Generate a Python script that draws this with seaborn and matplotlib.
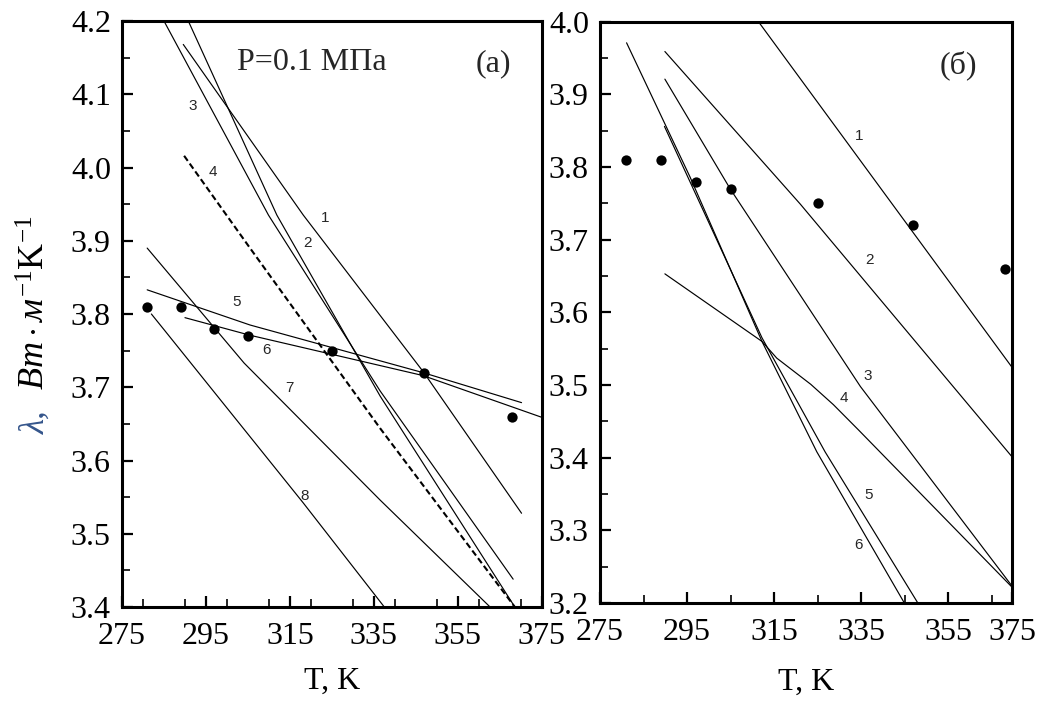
import matplotlib
matplotlib.use("Agg")
import matplotlib.pyplot as plt
import seaborn as sns
from matplotlib.ticker import FixedLocator, MultipleLocator, FormatStrFormatter

# ---------------- data ----------------
# experimental points (same in both panels)
T_obs = [281, 289, 297, 305, 325, 347, 368]
lam_obs = [3.81, 3.81, 3.78, 3.77, 3.75, 3.72, 3.66]

# panel (a) curves
a1_T = [289.6, 318.2, 346.8, 370.2]
a1_L = [4.168, 3.935, 3.721, 3.528]
a2_T = [290.8, 311.9, 336.5, 368.6]
a2_L = [4.200, 3.935, 3.688, 3.400]
a3_T = [285.0, 309.9, 336.5, 368.2]
a3_L = [4.200, 3.935, 3.695, 3.438]
a4_T = [289.8, 305.5, 336.5, 368.6]
a4_L = [4.016, 3.890, 3.644, 3.400]
a5_T = [281.0, 305.5, 346.7, 370.2]
a5_L = [3.833, 3.785, 3.720, 3.679]
a6_T = [290.0, 305.5, 346.7, 375.0]
a6_L = [3.795, 3.771, 3.716, 3.659]
a7_T = [281.0, 304.1, 336.5, 362.7]
a7_L = [3.890, 3.733, 3.546, 3.400]
a8_T = [282.0, 285.1, 318.2, 337.5]
a8_L = [3.800, 3.778, 3.542, 3.400]

# panel (б) curves
b1_T = [311.4, 369.8]
b1_L = [4.000, 3.523]
b2_T = [289.9, 321.0, 369.8]
b2_L = [3.959, 3.749, 3.400]
b3_T = [289.9, 304.9, 334.8, 369.8]
b3_L = [3.921, 3.770, 3.498, 3.222]
b4_T = [289.9, 312.2, 315.6, 323.4, 328.6, 334.4, 369.6]
b4_L = [3.653, 3.560, 3.537, 3.501, 3.473, 3.438, 3.222]
b5_T = [289.8, 312.2, 326.7, 348.0]
b5_L = [3.856, 3.565, 3.408, 3.200]
b6_T = [281.1, 295.7, 312.2, 324.8, 344.9]
b6_L = [3.971, 3.786, 3.560, 3.408, 3.200]

# curve number labels (text, T, lambda)
a_labels = [("1", 323.4, 3.931), ("2", 319.2, 3.897), ("3", 291.8, 4.084),
            ("4", 296.6, 3.994), ("5", 302.3, 3.817), ("6", 309.5, 3.751),
            ("7", 315.0, 3.699), ("8", 318.4, 3.552)]
b_labels = [("1", 334.4, 3.843), ("2", 336.8, 3.672), ("3", 336.4, 3.512),
            ("4", 330.9, 3.482), ("5", 336.7, 3.348), ("6", 334.4, 3.280)]

xticks_a = [275, 295, 315, 335, 355, 375]
xticks_b_pos = [275, 295, 315, 335, 355, 369.7]
xtick_labels = ["275", "295", "315", "335", "355", "375"]

# ---------------- style ----------------
sns.set_theme(style="white")
plt.rcParams["font.family"] = ["Liberation Serif", "DejaVu Serif"]
plt.rcParams["mathtext.fontset"] = "custom"
plt.rcParams["mathtext.rm"] = "Liberation Serif"
plt.rcParams["mathtext.it"] = "Liberation Serif:italic"
plt.rcParams["mathtext.bf"] = "Liberation Serif:bold"

FS = 23

fig = plt.figure(figsize=(10.51, 7.01), dpi=100)
axA = fig.add_axes([0.11608, 0.13409, 0.39933, 0.83595])
axB = fig.add_axes([0.5709, 0.1398, 0.3923, 0.8292])

LW = 0.85


def curve(ax, T, L, **kw):
    sns.lineplot(x=T, y=L, ax=ax, color="black", lw=kw.pop("lw", LW),
                 sort=False, estimator=None, legend=False, **kw)


for T, L in [(a1_T, a1_L), (a2_T, a2_L), (a3_T, a3_L), (a5_T, a5_L),
             (a6_T, a6_L), (a7_T, a7_L), (a8_T, a8_L)]:
    curve(axA, T, L)
curve(axA, a4_T, a4_L, lw=1.5, linestyle=(0, (3, 1.6)))

for T, L in [(b1_T, b1_L), (b2_T, b2_L), (b3_T, b3_L), (b4_T, b4_L),
             (b5_T, b5_L), (b6_T, b6_L)]:
    curve(axB, T, L)

for ax in (axA, axB):
    sns.scatterplot(x=T_obs, y=lam_obs, ax=ax, color="black", s=55,
                    edgecolor="black", linewidth=0, zorder=5, legend=False)

for txt, t, l in a_labels:
    axA.text(t, l, txt, fontsize=11, family="Liberation Sans",
             ha="center", va="center")
for txt, t, l in b_labels:
    axB.text(t, l, txt, fontsize=11, family="Liberation Sans",
             ha="center", va="center")

axA.text(320.2, 4.144, "P=0.1 МПа", fontsize=FS, ha="center", va="center")
axA.text(363.6, 4.142, "(a)", fontsize=FS, ha="center", va="center")
axB.text(357.3, 3.94, "(б)", fontsize=FS, ha="center", va="center")

# axes limits / ticks
axA.set_xlim(275, 375)
axA.set_ylim(3.4, 4.2)
axA.xaxis.set_major_locator(FixedLocator(xticks_a))
axA.set_xticklabels(xtick_labels)
axA.xaxis.set_minor_locator(MultipleLocator(10))
axA.yaxis.set_major_locator(MultipleLocator(0.1))
axA.yaxis.set_minor_locator(MultipleLocator(0.05))
axA.yaxis.set_major_formatter(FormatStrFormatter("%.1f"))

axB.set_xlim(275, 369.7)
axB.set_ylim(3.2, 4.0)
axB.xaxis.set_major_locator(FixedLocator(xticks_b_pos))
axB.set_xticklabels(xtick_labels)
axB.xaxis.set_minor_locator(FixedLocator([285, 305, 325, 345, 365]))
axB.yaxis.set_major_locator(MultipleLocator(0.1))
axB.yaxis.set_minor_locator(MultipleLocator(0.05))
axB.yaxis.set_major_formatter(FormatStrFormatter("%.1f"))

for ax in (axA, axB):
    for sp in ax.spines.values():
        sp.set_color("black")
        sp.set_linewidth(2.2)
    ax.tick_params(axis="both", which="major", direction="in", length=8,
                   width=1.6, labelsize=FS, colors="black", pad=8,
                   bottom=True, left=True, top=False, right=False)
    ax.tick_params(axis="both", which="minor", direction="in", length=5.5,
                   width=1.2, colors="black",
                   bottom=True, left=True, top=False, right=False)
    ax.tick_params(axis="x", which="major", pad=11)
    ax.set_xlabel("T, K", fontsize=FS, color="black")
    ax.set_ylabel("")

axA.xaxis.set_label_coords(0.5, -0.102)
axB.xaxis.set_label_coords(0.5, -0.112)

# y-axis label of panel (a)
fig.text(45 / 1051, 1 - 434 / 701, "λ,", rotation=90, rotation_mode="anchor",
         ha="left", va="baseline", fontsize=25, style="italic",
         color="#34558b")
fig.text(45 / 1051, 1 - 390 / 701, r"$Вт\cdot м^{-1}\mathrm{K}^{-1}$",
         rotation=90, rotation_mode="anchor", ha="left", va="baseline",
         fontsize=26, color="black")

fig.savefig("out.png", dpi=100)
